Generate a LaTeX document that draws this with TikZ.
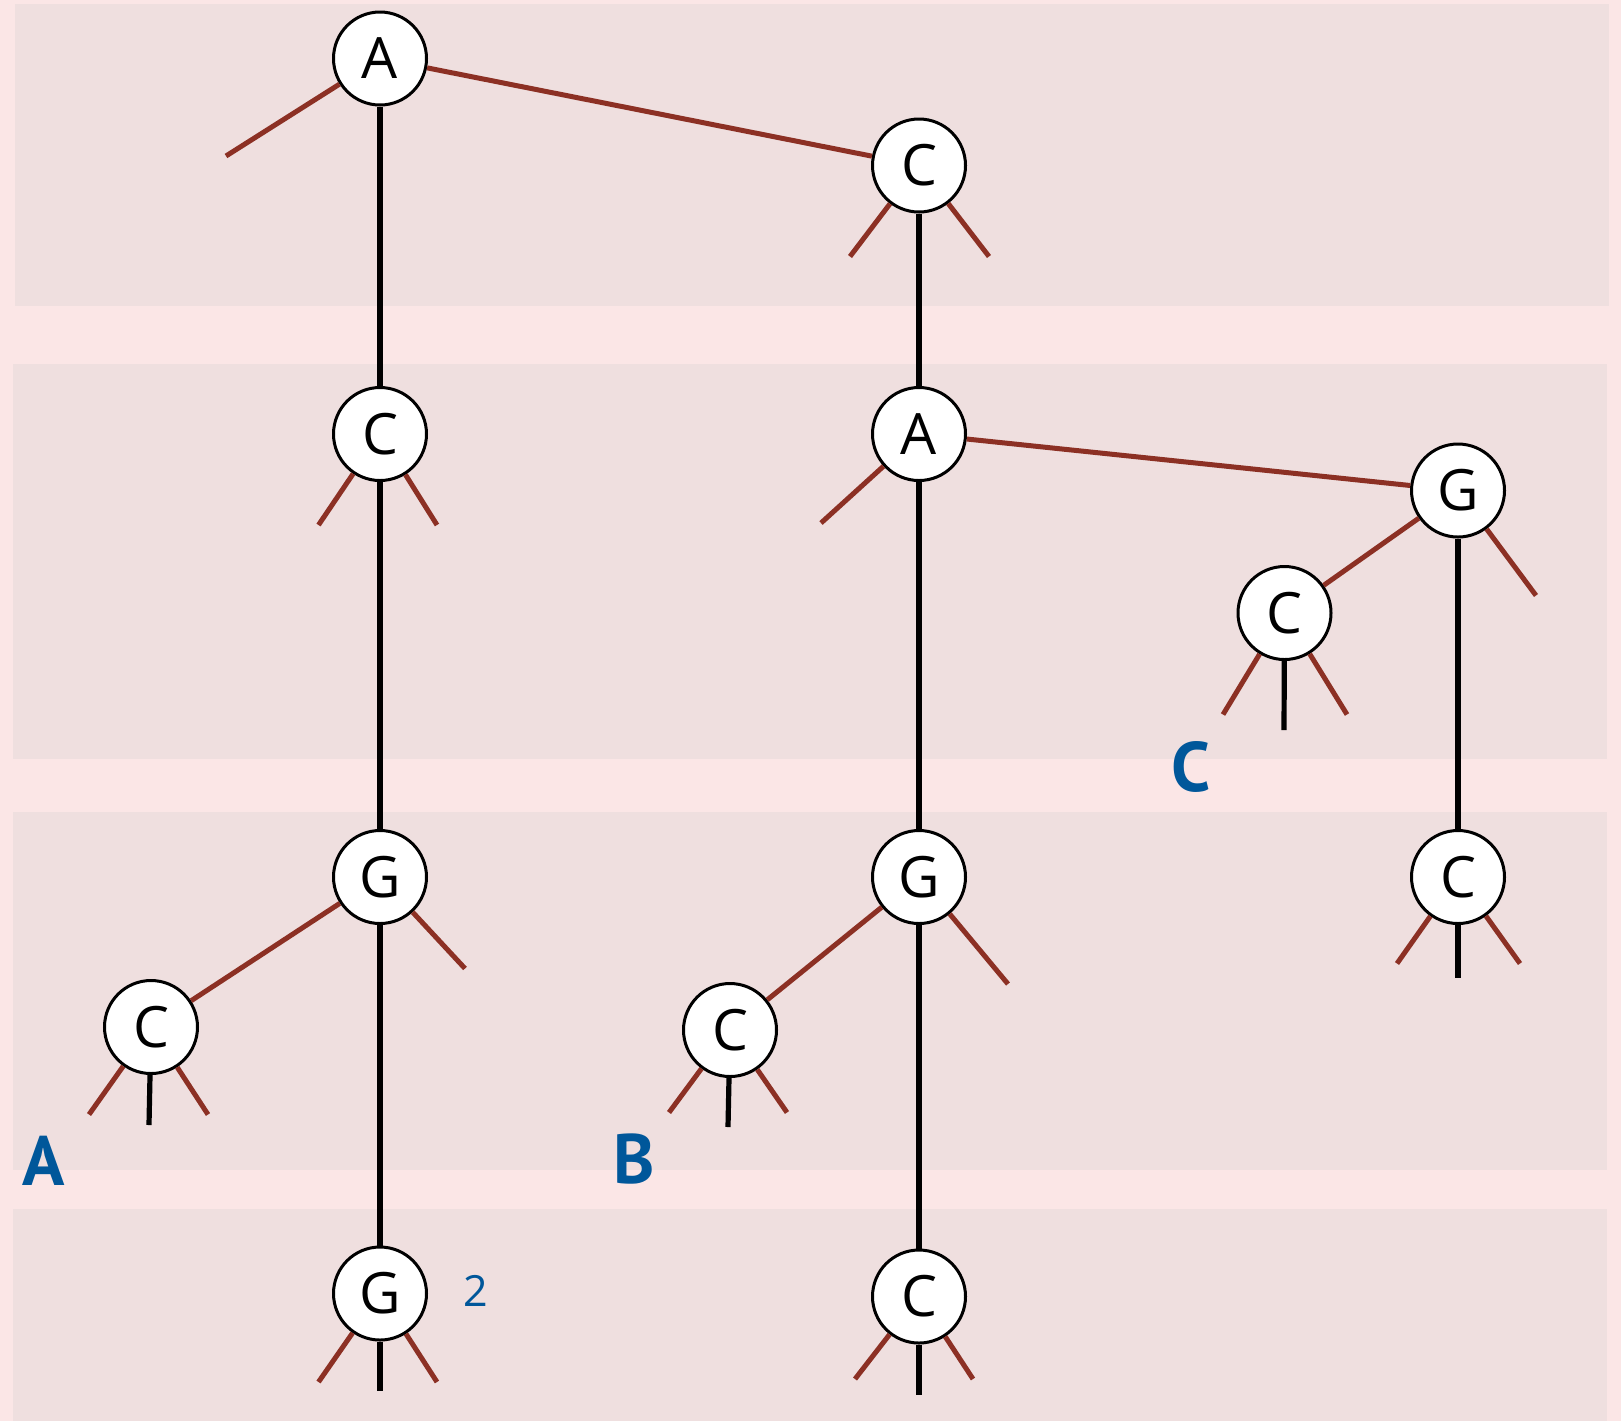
\documentclass[tikz,border=0pt]{standalone}
\usepackage{fontspec}
\setmainfont{Open Sans}
\newfontfamily\labelfont{PT Sans}
\definecolor{outerbg}{RGB}{251,230,230}
\definecolor{bandbg}{RGB}{239,223,223}
\definecolor{brown}{RGB}{140,48,36}
\definecolor{labblue}{RGB}{0,87,154}
\begin{document}
\begin{tikzpicture}[x=0.5pt,y=-0.5pt,
  band/.style={fill=bandbg,draw=none},
  vnode/.style={circle,draw=black,fill=white,line width=1.5pt,minimum size=46.5pt,inner sep=0pt,font=\fontsize{28.5}{32}\selectfont},
  redge/.style={draw=brown,line width=2.5pt},
  bedge/.style={draw=black,line width=2.6pt},
  biglabel/.style={text=labblue,font=\labelfont\bfseries\fontsize{35}{38}\selectfont,inner sep=0pt},
  numlabel/.style={text=labblue,font=\fontsize{21.5}{24}\selectfont,inner sep=0pt}]
\useasboundingbox (0,0) rectangle (1621,1421);
\fill[outerbg] (0,0) rectangle (1621,1421);
\path[band] (15,4) rectangle (1609,306);
\path[band] (13,364) rectangle (1607,759);
\path[band] (13,812) rectangle (1607,1170);
\path[band] (13,1209) rectangle (1607,1421);

% nodes
\node[vnode] (A1) at (380,58.5) {A};
\node[vnode] (C1) at (919,165.5) {C};
\node[vnode] (C2) at (380,434) {C};
\node[vnode] (A2) at (919,434) {A};
\node[vnode] (G2) at (1458,490.5) {G};
\node[vnode] (C2s) at (1284.5,613) {C};
\node[vnode] (G3l) at (380,877) {G};
\node[vnode] (G3m) at (919,877) {G};
\node[vnode] (C3r) at (1458,877) {C};
\node[vnode] (C3ls) at (151,1027) {C};
\node[vnode] (C3ms) at (730,1030) {C};
\node[vnode] (G4) at (380,1293.5) {G};
\node[vnode] (C4) at (919,1296.5) {C};

% stub end points
\coordinate (a1l) at (226,156);
\coordinate (c1l) at (850,256.5);
\coordinate (c1r) at (989,256.5);
\coordinate (c2l) at (318.5,525);
\coordinate (c2r) at (437,525);
\coordinate (a2l) at (821,523);
\coordinate (g2r) at (1536,595.5);
\coordinate (csl) at (1223,714.5);
\coordinate (csm) at (1284,730);
\coordinate (csr) at (1347,714.5);
\coordinate (g3lr) at (465,968.5);
\coordinate (cll) at (89,1114.5);
\coordinate (clm) at (149,1125);
\coordinate (clr) at (208,1114.5);
\coordinate (g3mr) at (1008,984);
\coordinate (cml) at (669,1112.5);
\coordinate (cmm) at (728,1127);
\coordinate (cmr) at (787,1112.5);
\coordinate (crl) at (1397,963.5);
\coordinate (crm) at (1458,978);
\coordinate (crr) at (1520,963.5);
\coordinate (g4l) at (318.5,1382);
\coordinate (g4m) at (380,1391);
\coordinate (g4r) at (437,1382);
\coordinate (c4l) at (855,1379);
\coordinate (c4m) at (919,1394.5);
\coordinate (c4r) at (973,1379);

% black edges
\draw[bedge] (A1) -- (C2);
\draw[bedge] (C2) -- (G3l);
\draw[bedge] (G3l) -- (G4);
\draw[bedge] (C1) -- (A2);
\draw[bedge] (A2) -- (G3m);
\draw[bedge] (G3m) -- (C4);
\draw[bedge] (G2) -- (C3r);
\draw[bedge] (C2s) -- (csm);
\draw[bedge] (C3ls) -- (clm);
\draw[bedge] (C3ms) -- (cmm);
\draw[bedge] (C3r) -- (crm);
\draw[bedge] (G4) -- (g4m);
\draw[bedge] (C4) -- (c4m);

% brown edges
\draw[redge] (A1) -- (C1);
\draw[redge] (A1) -- (a1l);
\draw[redge] (C1) -- (c1l);
\draw[redge] (C1) -- (c1r);
\draw[redge] (C2) -- (c2l);
\draw[redge] (C2) -- (c2r);
\draw[redge] (A2) -- (G2);
\draw[redge] (A2) -- (a2l);
\draw[redge] (G2) -- (C2s);
\draw[redge] (G2) -- (g2r);
\draw[redge] (C2s) -- (csl);
\draw[redge] (C2s) -- (csr);
\draw[redge] (G3l) -- (C3ls);
\draw[redge] (G3l) -- (g3lr);
\draw[redge] (C3ls) -- (cll);
\draw[redge] (C3ls) -- (clr);
\draw[redge] (G3m) -- (C3ms);
\draw[redge] (G3m) -- (g3mr);
\draw[redge] (C3ms) -- (cml);
\draw[redge] (C3ms) -- (cmr);
\draw[redge] (C3r) -- (crl);
\draw[redge] (C3r) -- (crr);
\draw[redge] (G4) -- (g4l);
\draw[redge] (G4) -- (g4r);
\draw[redge] (C4) -- (c4l);
\draw[redge] (C4) -- (c4r);

% labels
\node[biglabel] (labA) at (43.5,1161) {A};
\node[biglabel] (labB) at (634,1159) {B};
\node[biglabel] (labC) at (1191,767) {C};
\node[numlabel] (lab2) at (475.5,1291) {2};
\end{tikzpicture}
\end{document}
